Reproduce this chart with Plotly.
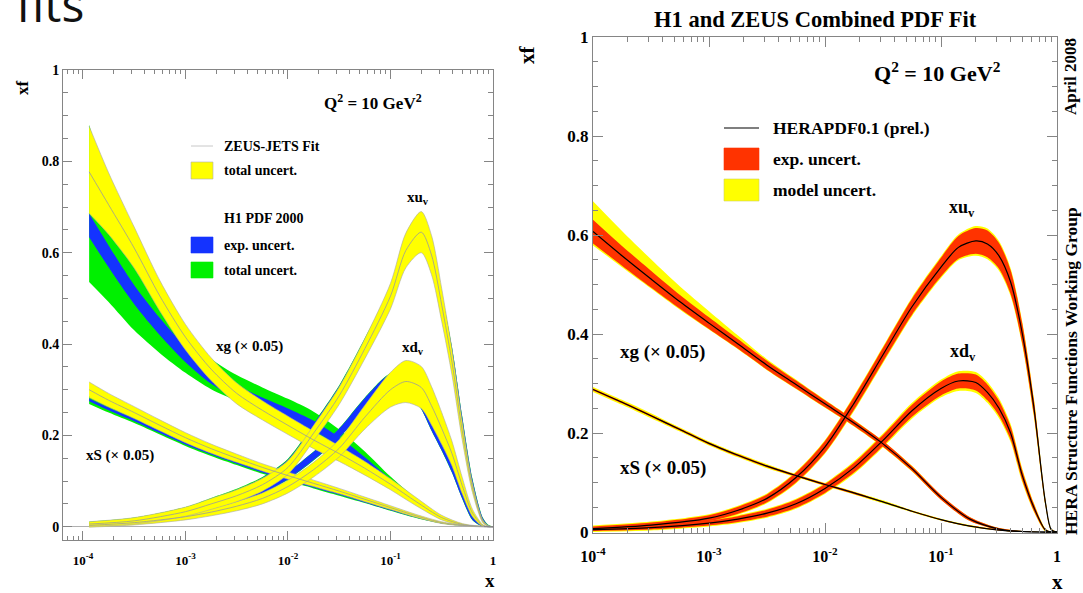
import numpy as np
import plotly.graph_objects as go

W, H = 1083, 593

# ---------------- LEFT PANEL: ZEUS-JETS fit vs H1 PDF 2000 (Q2 = 10 GeV2) ----------------
L_LOGX = [-3.94, -3.75, -3.5, -3.25, -3.0, -2.75, -2.5, -2.25, -2.0, -1.75, -1.5, -1.25, -1.0, -0.75, -0.5, -0.3, -0.15, 0.0]

zeus_xg    = [0.777, 0.705, 0.610, 0.505, 0.415, 0.345, 0.292, 0.255, 0.222, 0.190, 0.160, 0.128, 0.093, 0.055, 0.020, 0.005, 0.001, 0.0]
zeus_xg_up = [0.100, 0.070, 0.046, 0.034, 0.028, 0.025, 0.023, 0.021, 0.020, 0.019, 0.017, 0.015, 0.012, 0.009, 0.005, 0.002, 0.001, 0.0]
zeus_xg_dn = [0.091, 0.065, 0.044, 0.033, 0.028, 0.025, 0.023, 0.021, 0.020, 0.019, 0.017, 0.015, 0.012, 0.009, 0.005, 0.002, 0.001, 0.0]
h1_xg        = [0.660, 0.592, 0.508, 0.438, 0.377, 0.328, 0.295, 0.270, 0.247, 0.221, 0.186, 0.144, 0.098, 0.056, 0.020, 0.005, 0.001, 0.0]
h1_xg_exp    = [0.026, 0.024, 0.021, 0.019, 0.017, 0.015, 0.014, 0.013, 0.012, 0.011, 0.010, 0.008, 0.006, 0.004, 0.002, 0.001, 0.0, 0.0]
h1_xg_tot_dn = [0.124, 0.100, 0.078, 0.058, 0.040, 0.027, 0.019, 0.016, 0.014, 0.013, 0.012, 0.010, 0.007, 0.005, 0.002, 0.001, 0.0, 0.0]
h1_xg_tot_up = [0.220, 0.150, 0.090, 0.060, 0.046, 0.040, 0.037, 0.035, 0.033, 0.031, 0.027, 0.021, 0.012, 0.006, 0.003, 0.001, 0.0, 0.0]

zeus_xs     = [0.300, 0.277, 0.250, 0.222, 0.195, 0.171, 0.150, 0.130, 0.112, 0.095, 0.078, 0.060, 0.042, 0.024, 0.009, 0.003, 0.001, 0.0]
zeus_xs_err = [0.017, 0.015, 0.013, 0.012, 0.011, 0.010, 0.009, 0.008, 0.008, 0.007, 0.006, 0.005, 0.004, 0.003, 0.002, 0.001, 0.0005, 0.0]
h1_xs       = [0.278, 0.258, 0.234, 0.208, 0.183, 0.160, 0.140, 0.121, 0.104, 0.088, 0.072, 0.055, 0.038, 0.021, 0.008, 0.003, 0.001, 0.0]
h1_xs_exp   = [0.003, 0.003, 0.003, 0.003, 0.003, 0.002, 0.002, 0.002, 0.002, 0.002, 0.002, 0.002, 0.002, 0.001, 0.001, 0.0, 0.0, 0.0]
h1_xs_tot   = [0.009, 0.008, 0.007, 0.006, 0.006, 0.005, 0.005, 0.005, 0.004, 0.004, 0.004, 0.003, 0.003, 0.002, 0.001, 0.001, 0.0, 0.0]

L_VAL_LOGX = [-3.94, -3.5, -3.0, -2.75, -2.5, -2.25, -2.0, -1.75, -1.5, -1.25, -1.0, -0.85, -0.7, -0.6, -0.5, -0.4, -0.3, -0.2, -0.1, -0.05, 0.0]

zeus_xuv     = [0.006, 0.013, 0.033, 0.050, 0.068, 0.092, 0.130, 0.205, 0.287, 0.390, 0.505, 0.605, 0.645, 0.595, 0.485, 0.360, 0.210, 0.085, 0.012, 0.002, 0.0]
zeus_xuv_err = [0.005, 0.007, 0.010, 0.012, 0.013, 0.014, 0.015, 0.017, 0.019, 0.022, 0.028, 0.038, 0.045, 0.043, 0.036, 0.028, 0.020, 0.010, 0.003, 0.001, 0.0]
h1_xuv       = [0.007, 0.015, 0.037, 0.056, 0.076, 0.101, 0.141, 0.218, 0.301, 0.403, 0.511, 0.600, 0.630, 0.590, 0.495, 0.382, 0.232, 0.097, 0.016, 0.003, 0.0]
h1_xuv_exp   = [0.002, 0.003, 0.004, 0.005, 0.005, 0.006, 0.006, 0.007, 0.007, 0.008, 0.009, 0.010, 0.012, 0.012, 0.011, 0.010, 0.008, 0.006, 0.003, 0.001, 0.0]
h1_xuv_tot   = [0.004, 0.005, 0.006, 0.007, 0.007, 0.008, 0.008, 0.009, 0.009, 0.010, 0.012, 0.013, 0.016, 0.015, 0.014, 0.012, 0.010, 0.008, 0.004, 0.002, 0.0]

zeus_xdv     = [0.003, 0.009, 0.022, 0.032, 0.045, 0.062, 0.088, 0.125, 0.172, 0.240, 0.300, 0.318, 0.305, 0.265, 0.215, 0.160, 0.090, 0.030, 0.003, 0.0, 0.0]
zeus_xdv_err = [0.004, 0.005, 0.007, 0.008, 0.010, 0.012, 0.014, 0.016, 0.019, 0.026, 0.038, 0.046, 0.046, 0.042, 0.035, 0.027, 0.018, 0.008, 0.002, 0.0, 0.0]
h1_xdv       = [0.004, 0.012, 0.030, 0.042, 0.058, 0.080, 0.112, 0.155, 0.205, 0.270, 0.322, 0.318, 0.272, 0.225, 0.180, 0.130, 0.070, 0.020, 0.002, 0.0, 0.0]
h1_xdv_exp   = [0.003, 0.004, 0.005, 0.006, 0.006, 0.007, 0.008, 0.009, 0.010, 0.012, 0.013, 0.014, 0.014, 0.014, 0.013, 0.011, 0.008, 0.005, 0.001, 0.0, 0.0]
h1_xdv_tot   = [0.004, 0.005, 0.006, 0.007, 0.007, 0.008, 0.009, 0.010, 0.011, 0.013, 0.014, 0.015, 0.015, 0.015, 0.014, 0.012, 0.009, 0.006, 0.002, 0.0, 0.0]

# ---------------- RIGHT PANEL: HERAPDF0.1 (prel.) ----------------
R_LOGX = [-4.0, -3.75, -3.5, -3.25, -3.0, -2.75, -2.5, -2.25, -2.0, -1.75, -1.5, -1.25, -1.0, -0.75, -0.5, -0.3, -0.15, 0.0]

hera_xg        = [0.607, 0.558, 0.511, 0.465, 0.422, 0.380, 0.337, 0.298, 0.259, 0.220, 0.178, 0.128, 0.070, 0.026, 0.006, 0.001, 0.0, 0.0]
hera_xg_exp    = [0.024, 0.020, 0.017, 0.014, 0.012, 0.010, 0.009, 0.008, 0.007, 0.006, 0.006, 0.005, 0.005, 0.004, 0.002, 0.001, 0.0, 0.0]
hera_xg_mod_up = [0.061, 0.050, 0.040, 0.031, 0.024, 0.017, 0.012, 0.010, 0.008, 0.007, 0.006, 0.006, 0.005, 0.004, 0.002, 0.001, 0.0, 0.0]
hera_xg_mod_dn = [0.028, 0.023, 0.019, 0.016, 0.013, 0.011, 0.010, 0.009, 0.008, 0.007, 0.007, 0.006, 0.005, 0.004, 0.002, 0.001, 0.0, 0.0]

hera_xs     = [0.288, 0.262, 0.235, 0.207, 0.179, 0.155, 0.133, 0.114, 0.096, 0.079, 0.061, 0.042, 0.025, 0.012, 0.004, 0.001, 0.0, 0.0]
hera_xs_exp = [0.002, 0.002, 0.002, 0.002, 0.002, 0.002, 0.002, 0.002, 0.002, 0.002, 0.001, 0.001, 0.001, 0.001, 0.001, 0.0, 0.0, 0.0]
hera_xs_mod = [0.005, 0.005, 0.005, 0.004, 0.004, 0.004, 0.004, 0.003, 0.003, 0.003, 0.003, 0.002, 0.002, 0.002, 0.001, 0.001, 0.0, 0.0]

R_VAL_LOGX = [-4.0, -3.5, -3.0, -2.75, -2.5, -2.25, -2.0, -1.75, -1.5, -1.25, -1.0, -0.85, -0.7, -0.6, -0.5, -0.4, -0.3, -0.2, -0.1, -0.05, 0.0]

hera_xuv     = [0.007, 0.014, 0.028, 0.044, 0.068, 0.110, 0.172, 0.260, 0.358, 0.455, 0.535, 0.575, 0.588, 0.582, 0.558, 0.505, 0.402, 0.253, 0.060, 0.005, 0.0]
hera_xuv_exp = [0.004, 0.005, 0.006, 0.007, 0.008, 0.010, 0.012, 0.013, 0.014, 0.016, 0.019, 0.023, 0.026, 0.027, 0.026, 0.024, 0.020, 0.015, 0.005, 0.001, 0.0]
hera_xuv_mod = [0.006, 0.007, 0.008, 0.009, 0.010, 0.012, 0.014, 0.016, 0.017, 0.019, 0.022, 0.026, 0.030, 0.031, 0.030, 0.028, 0.024, 0.019, 0.007, 0.002, 0.0]

hera_xdv     = [0.005, 0.009, 0.018, 0.026, 0.038, 0.057, 0.088, 0.130, 0.185, 0.245, 0.290, 0.305, 0.302, 0.282, 0.250, 0.200, 0.115, 0.050, 0.004, 0.0, 0.0]
hera_xdv_exp = [0.003, 0.004, 0.005, 0.006, 0.007, 0.008, 0.009, 0.010, 0.011, 0.012, 0.014, 0.015, 0.016, 0.016, 0.015, 0.013, 0.010, 0.007, 0.002, 0.0, 0.0]
hera_xdv_mod = [0.005, 0.006, 0.007, 0.008, 0.009, 0.010, 0.011, 0.013, 0.014, 0.016, 0.018, 0.020, 0.021, 0.021, 0.020, 0.018, 0.014, 0.009, 0.003, 0.0, 0.0]

X_TICKS = [1e-4, 1e-3, 1e-2, 1e-1, 1.0]
X_TICK_TEXT = ["<b>10<sup>-4</sup></b>", "<b>10<sup>-3</sup></b>", "<b>10<sup>-2</sup></b>", "<b>10<sup>-1</sup></b>", "<b>1</b>"]
Y_TICKS = [0, 0.2, 0.4, 0.6, 0.8, 1.0]
Y_TICK_TEXT = ["<b>0</b>", "<b>0.2</b>", "<b>0.4</b>", "<b>0.6</b>", "<b>0.8</b>", "<b>1</b>"]

YELLOW = "#FFFF00"
BLUE = "#1433FF"
GREEN = "#00F000"
RED = "#FF3300"
SERIF = "Liberation Serif"

fig = go.Figure()


def xs(lx):
    return [10 ** v for v in lx]


def band(lx, lo, hi, color, xa, ya, edge=None, ew=0.0):
    x = xs(lx)
    ln = dict(color=edge or color, width=ew, shape="spline", smoothing=0.8)
    fig.add_trace(go.Scatter(x=x, y=lo, mode="lines", line=ln, xaxis=xa, yaxis=ya,
                             hoverinfo="skip", showlegend=False))
    fig.add_trace(go.Scatter(x=x, y=hi, mode="lines", line=ln, fill="tonexty", fillcolor=color,
                             xaxis=xa, yaxis=ya, hoverinfo="skip", showlegend=False))


def line(lx, y, color, width, xa, ya):
    fig.add_trace(go.Scatter(x=xs(lx), y=y, mode="lines",
                             line=dict(color=color, width=width, shape="spline", smoothing=0.8),
                             xaxis=xa, yaxis=ya, hoverinfo="skip", showlegend=False))


def sub(a, b):
    return [p - q for p, q in zip(a, b)]


def add(a, b):
    return [p + q for p, q in zip(a, b)]


# ---- left panel: H1 bands first (green total, blue exp) ----
band(L_LOGX, sub(h1_xg, h1_xg_tot_dn), add(h1_xg, h1_xg_tot_up), GREEN, "x", "y")
band(L_LOGX, sub(h1_xs, h1_xs_tot), add(h1_xs, h1_xs_tot), GREEN, "x", "y")
band(L_VAL_LOGX, sub(h1_xuv, h1_xuv_tot), add(h1_xuv, h1_xuv_tot), GREEN, "x", "y")
band(L_VAL_LOGX, sub(h1_xdv, h1_xdv_tot), add(h1_xdv, h1_xdv_tot), GREEN, "x", "y")
band(L_LOGX, sub(h1_xg, h1_xg_exp), add(h1_xg, h1_xg_exp), BLUE, "x", "y")
band(L_LOGX, sub(h1_xs, h1_xs_exp), add(h1_xs, h1_xs_exp), BLUE, "x", "y")
band(L_VAL_LOGX, sub(h1_xuv, h1_xuv_exp), add(h1_xuv, h1_xuv_exp), BLUE, "x", "y")
band(L_VAL_LOGX, sub(h1_xdv, h1_xdv_exp), add(h1_xdv, h1_xdv_exp), BLUE, "x", "y")
# ZEUS-JETS yellow total bands with grey outline and central line
EDGE = "#a8a8a8"
band(L_LOGX, sub(zeus_xg, zeus_xg_dn), add(zeus_xg, zeus_xg_up), YELLOW, "x", "y", EDGE, 0.6)
band(L_LOGX, sub(zeus_xs, zeus_xs_err), add(zeus_xs, zeus_xs_err), YELLOW, "x", "y", EDGE, 0.6)
band(L_VAL_LOGX, sub(zeus_xdv, zeus_xdv_err), add(zeus_xdv, zeus_xdv_err), YELLOW, "x", "y", EDGE, 0.6)
band(L_VAL_LOGX, sub(zeus_xuv, zeus_xuv_err), add(zeus_xuv, zeus_xuv_err), YELLOW, "x", "y", EDGE, 0.6)
for lx, c in [(L_LOGX, zeus_xg), (L_LOGX, zeus_xs), (L_VAL_LOGX, zeus_xuv), (L_VAL_LOGX, zeus_xdv)]:
    line(lx, c, "#9a9a9a", 0.8, "x", "y")

# ---- right panel: model (yellow), exp (red), central (black) ----
band(R_LOGX, sub(hera_xg, hera_xg_mod_dn), add(hera_xg, hera_xg_mod_up), YELLOW, "x2", "y2")
band(R_LOGX, sub(hera_xs, hera_xs_mod), add(hera_xs, hera_xs_mod), YELLOW, "x2", "y2")
band(R_VAL_LOGX, sub(hera_xuv, hera_xuv_mod), add(hera_xuv, hera_xuv_mod), YELLOW, "x2", "y2")
band(R_VAL_LOGX, sub(hera_xdv, hera_xdv_mod), add(hera_xdv, hera_xdv_mod), YELLOW, "x2", "y2")
band(R_LOGX, sub(hera_xg, hera_xg_exp), add(hera_xg, hera_xg_exp), RED, "x2", "y2")
band(R_LOGX, sub(hera_xs, hera_xs_exp), add(hera_xs, hera_xs_exp), RED, "x2", "y2")
band(R_VAL_LOGX, sub(hera_xuv, hera_xuv_exp), add(hera_xuv, hera_xuv_exp), RED, "x2", "y2")
band(R_VAL_LOGX, sub(hera_xdv, hera_xdv_exp), add(hera_xdv, hera_xdv_exp), RED, "x2", "y2")
for lx, c in [(R_LOGX, hera_xg), (R_LOGX, hera_xs), (R_VAL_LOGX, hera_xuv), (R_VAL_LOGX, hera_xdv)]:
    line(lx, c, "black", 1.2, "x2", "y2")

# ---- axes ----
minor_x = [k * 10.0 ** e for e in range(-5, 0) for k in range(2, 10)]
AX = dict(showgrid=False, showline=True, linecolor="#858585", linewidth=1, mirror="allticks",
          ticks="inside", tickcolor="#858585", tickwidth=1, automargin=False)


def px_x(p):
    return p / W


def px_y(p):
    return 1 - p / H


fig.update_layout(
    width=W, height=H, margin=dict(l=0, r=0, t=0, b=0, autoexpand=False),
    paper_bgcolor="white", plot_bgcolor="white", showlegend=False,
    xaxis=dict(AX, type="log", range=[-4.195, 0.0], domain=[px_x(63), px_x(493)], anchor="y",
               tickvals=X_TICKS, ticktext=X_TICK_TEXT, ticklen=9, zeroline=False, ticklabelstandoff=8,
               tickfont=dict(family=SERIF, size=13, color="black"),
               minor=dict(ticks="inside", ticklen=4, tickcolor="#858585", tickvals=minor_x)),
    yaxis=dict(AX, range=[-0.029, 1.0], domain=[px_y(540), px_y(70)], anchor="x",
               tickvals=Y_TICKS, ticktext=Y_TICK_TEXT, ticklen=9,
               zeroline=True, zerolinecolor="#b0b0b0", zerolinewidth=1,
               tickfont=dict(family=SERIF, size=14, color="black"),
               minor=dict(ticks="inside", ticklen=5, tickcolor="#858585", dtick=0.05, tick0=0)),
    xaxis2=dict(AX, type="log", range=[-4.0, 0.0], domain=[px_x(593), px_x(1057)], anchor="y2",
                tickvals=X_TICKS, ticktext=X_TICK_TEXT, ticklen=10, zeroline=False, ticklabelstandoff=9,
                tickfont=dict(family=SERIF, size=16, color="black"),
                minor=dict(ticks="inside", ticklen=5, tickcolor="#858585", tickvals=minor_x)),
    yaxis2=dict(AX, range=[-0.002, 1.0], domain=[px_y(533), px_y(37)], anchor="x2",
                tickvals=Y_TICKS, ticktext=Y_TICK_TEXT, ticklen=10, zeroline=False,
                tickfont=dict(family=SERIF, size=17, color="black"),
                minor=dict(ticks="inside", ticklen=5, tickcolor="#858585", dtick=0.05, tick0=0)),
)

ann = []


def text(t, x, y, size, xanchor="center", yanchor="middle", angle=0, family=SERIF, bold=True, color="black"):
    ann.append(dict(text=("<b>%s</b>" % t) if bold else t, x=px_x(x), y=px_y(y), xref="paper", yref="paper",
                    xanchor=xanchor, yanchor=yanchor, showarrow=False, textangle=angle,
                    font=dict(family=family, size=size, color=color)))


# slide title remnant (cut by the top edge)
text("fits", 14, 38, 48, xanchor="left", yanchor="bottom", family="Open Sans", bold=False, color="#111111")

# left panel texts
text("Q<sup>2</sup> = 10 GeV<sup>2</sup>", 373, 102, 17)
text("ZEUS-JETS Fit", 222, 146, 14, xanchor="left")
text("total uncert.", 222, 170, 14, xanchor="left")
text("H1 PDF 2000", 222, 219, 14, xanchor="left")
text("exp. uncert.", 222, 245, 14, xanchor="left")
text("total uncert.", 222, 270, 14, xanchor="left")
text("xu<sub>v</sub>", 418, 198, 15)
text("xd<sub>v</sub>", 413, 348, 15)
text("xg (× 0.05)", 249, 347, 15)
text("xS (× 0.05)", 120, 455, 15)
text("xf", 22, 88, 17, angle=-90)
text("x", 490, 580, 19)

# right panel texts
text("H1 and ZEUS Combined PDF Fit", 815, 20, 22.5)
text("Q<sup>2</sup> = 10 GeV<sup>2</sup>", 938, 72, 22)
text("HERAPDF0.1 (prel.)", 771, 128, 17.5, xanchor="left")
text("exp. uncert.", 771, 159, 17.5, xanchor="left")
text("model uncert.", 771, 190, 17.5, xanchor="left")
text("xu<sub>v</sub>", 962, 208, 18)
text("xd<sub>v</sub>", 963, 352, 18)
text("xg (× 0.05)", 662, 352, 19)
text("xS (× 0.05)", 663, 468, 19)
text("xf", 527, 55, 21, angle=-90)
text("x", 1057, 582, 21)
text("April 2008", 1071, 77, 17, angle=-90)
text("HERA Structure Functions Working Group", 1071, 371, 17.5, angle=-90)

fig.update_layout(annotations=ann)

# legend swatches (shapes in pixel->paper coordinates)
shapes = []


def rect(x0, y0, x1, y1, color, lc="#b0b0b0"):
    shapes.append(dict(type="rect", xref="paper", yref="paper", x0=px_x(x0), x1=px_x(x1),
                       y0=px_y(y1), y1=px_y(y0), fillcolor=color, line=dict(color=lc, width=0.6)))


def hline(x0, x1, y, color, width):
    shapes.append(dict(type="line", xref="paper", yref="paper", x0=px_x(x0), x1=px_x(x1),
                       y0=px_y(y), y1=px_y(y), line=dict(color=color, width=width)))


hline(191, 213, 146, "#c8c8c8", 1)
rect(191, 162, 213, 179, YELLOW)
rect(191, 237, 213, 253, BLUE, BLUE)
rect(191, 262, 213, 278, GREEN, GREEN)
hline(724, 759, 128, "#555555", 1.5)
rect(724, 148, 759, 170, RED, RED)
rect(724, 179, 759, 201, YELLOW, "#d0d060")
fig.update_layout(shapes=shapes)

fig.write_html("out.html", config={"displayModeBar": False},
               post_script="document.body.style.margin='0px';document.body.style.overflow='hidden';")
